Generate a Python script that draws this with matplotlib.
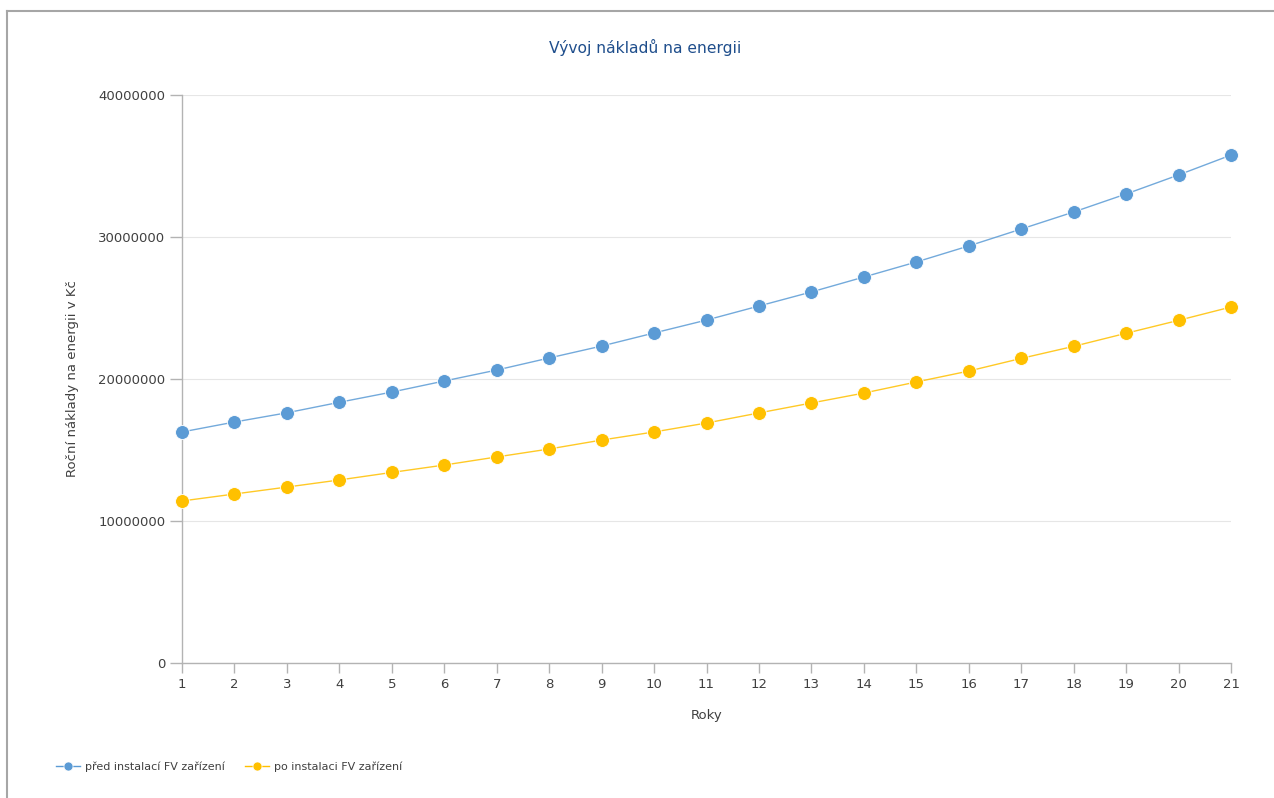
import numpy as np
import matplotlib.pyplot as plt
from matplotlib.lines import Line2D

# --- data ---
roky = list(range(1, 22))
pred_fv = [16.27, 16.97, 17.62, 18.36, 19.08, 19.86, 20.63, 21.48, 22.32, 23.24, 24.15,
           25.14, 26.13, 27.18, 28.24, 29.37, 30.56, 31.76, 33.03, 34.37, 35.77]
po_fv = [11.41, 11.90, 12.39, 12.89, 13.42, 13.94, 14.51, 15.07, 15.70, 16.27, 16.90,
         17.61, 18.31, 19.01, 19.79, 20.56, 21.45, 22.30, 23.22, 24.13, 25.07]
pred_fv = [v * 1e6 for v in pred_fv]
po_fv = [v * 1e6 for v in po_fv]
y_ticks = [0, 10000000, 20000000, 30000000, 40000000]

BLUE = "#5b9bd5"
YELLOW = "#ffc000"
TXT = "#404040"

plt.rcParams["font.family"] = ["DejaVu Sans"]
fig = plt.figure(figsize=(12.74, 7.98), dpi=100)
ax = fig.add_axes([182 / 1274, 1 - 663 / 798, (1231 - 182) / 1274, (663 - 95) / 798])

for vals, col, lab in [(pred_fv, BLUE, "před instalací FV zařízení"),
                       (po_fv, YELLOW, "po instalaci FV zařízení")]:
    ax.plot(roky, vals, color=col, lw=1.0, alpha=0.85, zorder=3)
    ax.plot(roky, vals, ls="none", marker="o", ms=10, color=col,
            mec="white", mew=0.6, zorder=4, clip_on=False, label=lab)

ax.set_xlim(1, 21)
ax.set_ylim(0, 40000000)
ax.set_xticks(roky)
ax.set_yticks(y_ticks)
ax.set_yticklabels([str(v) for v in y_ticks])
ax.grid(axis="y", color="#e6e6e6", lw=0.8)
ax.set_axisbelow(True)
for s in ["top", "right"]:
    ax.spines[s].set_visible(False)
for s in ["left", "bottom"]:
    ax.spines[s].set_color("#b3b3b3")
    ax.spines[s].set_linewidth(1.0)
ax.tick_params(axis="both", colors="#b3b3b3", labelcolor=TXT, labelsize=9.5,
               length=7, width=1.0)
ax.tick_params(axis="y", length=9, pad=3)

ax.set_xlabel("Roky", fontsize=9.5, color=TXT, labelpad=13)
ax.set_ylabel("Roční náklady na energii v Kč", fontsize=9.5, color=TXT, labelpad=14)
fig.text(645 / 1274, 1 - 47 / 798, "Vývoj nákladů na energii", ha="center", va="center",
         fontsize=11.2, color="#1f4e8c")

handles = [Line2D([0], [0], color=BLUE, lw=1.0, marker="o", ms=6.5, mec="white", mew=0.5),
           Line2D([0], [0], color=YELLOW, lw=1.0, marker="o", ms=6.5, mec="white", mew=0.5)]
fig.legend(handles, ["před instalací FV zařízení", "po instalaci FV zařízení"],
           loc="center left", bbox_to_anchor=(46 / 1274, 1 - 767 / 798), ncol=2,
           frameon=False, fontsize=8, labelcolor=TXT, handlelength=2.2,
           handletextpad=0.4, columnspacing=1.8)

# grey frame on top and left like the original screenshot
fig.add_artist(Line2D([7 / 1274, 1], [1 - 11 / 798, 1 - 11 / 798], color="#a6a6a6", lw=1.5))
fig.add_artist(Line2D([7 / 1274, 7 / 1274], [0, 1 - 11 / 798], color="#a6a6a6", lw=1.5))

fig.savefig("out.png", dpi=100, facecolor="white")
